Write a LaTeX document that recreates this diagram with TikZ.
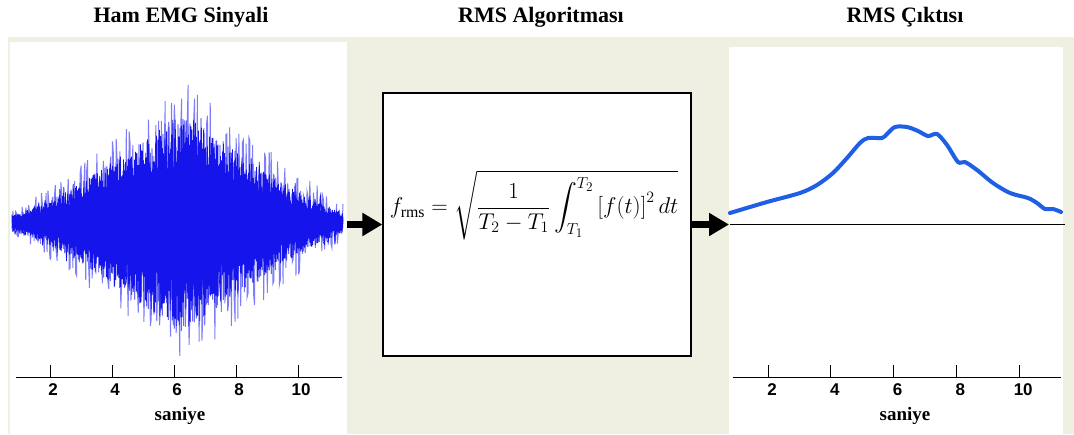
\documentclass[tikz,border=0pt]{standalone}
\usepackage{amsmath,fontspec}
\usetikzlibrary{arrows.meta,positioning}
\setmainfont{Liberation Serif}
\newfontfamily\tickfont{Liberation Sans}

\definecolor{panelbeige}{RGB}{240,240,226}
\definecolor{emgblue}{RGB}{20,20,235}
\definecolor{spikeblue}{RGB}{125,125,250}
\definecolor{rmsblue}{RGB}{30,95,230}

\tikzset{
  title/.style={font=\fontsize{22}{26}\selectfont\bfseries},
  panel/.style={fill=white, inner sep=0pt, anchor=north west},
  ticklabel/.style={font=\tickfont\fontsize{17}{20}\selectfont\bfseries, anchor=north},
  axislabel/.style={font=\fontsize{19}{22}\selectfont\bfseries},
  bigarrow/.style={line width=6.5pt, -{Triangle[length=20pt,width=22pt]}},
}

\begin{document}
\begin{tikzpicture}[x=1pt, y=-1pt,
    declare function={
      envspike(\x)=12+130*(max(0,1-abs(\x-185)/172))^1.1;
      envcore(\x)=9+104*(max(0,1-abs(\x-182)/168))^1.3;
      sgn(\x)=2*mod(round(\x*4),2)-1;
    }]
  \useasboundingbox (0,0) rectangle (1074,434);
  \pgfmathsetseed{42}

  % backgrounds
  \fill[panelbeige] (8,37) rectangle (1074,434);
  \node[panel, minimum width=337pt, minimum height=392pt] (raw) at (10,42) {};
  \node[panel, minimum width=334pt, minimum height=387pt] (out) at (729,47) {};

  % titles
  \node[title] (rawtitle) at (181,17) {Ham EMG Sinyali};
  \node[title] (algotitle) at (541,17) {RMS Algoritması};
  \node[title] (outtitle) at (905,17) {RMS Çıktısı};

  % raw EMG signal
  \draw[spikeblue, line width=1pt] plot[domain=12:343, samples=360] (\x, {223+sgn(\x*0.93)*(rnd^0.5)*envspike(\x)});
  \draw[emgblue, line width=0.8pt] plot[domain=12:343, samples=1325] (\x, {223+sgn(\x)*(0.5+0.5*rnd)*envcore(\x)});
  \draw[emgblue, line width=0.7pt] plot[domain=12:343, samples=250] (\x, {223+rand*envspike(\x)*0.8});

  % left axis
  \draw[line width=1pt] (16,377) -- (342,377);
  \foreach \t in {2,4,...,10}{
    \draw[line width=1pt] ({50+(\t-2)*31},365) -- ({50+(\t-2)*31},377);
    \node[ticklabel] at ({53+(\t-2)*31},380) {\t};
  }
  \node[axislabel] (rawx) at (180,416) {saniye};

  % RMS block
  \node[draw, line width=1.2pt, fill=white, minimum width=308pt, minimum height=263pt] (algo) at (537,224.5) {};
  \node[scale=1.1, transform shape] (formula) at (534,205) {\fontsize{20.74}{25}\selectfont
    $\displaystyle f_{\mathrm{rms}}=\sqrt{\frac{1}{T_2-T_1}\int_{T_1}^{T_2}\left[f(t)\right]^2 dt}$};

  % arrows
  \draw[bigarrow] (algo.west -| raw.east) -- (algo.west);
  \draw[bigarrow] (algo.east) -- (algo.east -| out.west);

  % RMS output
  \draw[line width=1pt] (730,224) -- (1065,224);
  \draw[rmsblue, line width=4pt, line cap=round] plot[smooth, tension=0.5] coordinates {
    (730,213) (767,202) (800,193) (817,185) (833,173) (847,158) (860,143)
    (868,138) (882,138) (887,134) (895,127) (907,127) (918,131) (928,136)
    (937,134) (947,145) (958,162) (965,162) (977,170) (993,183) (1010,193)
    (1028,198) (1037,203) (1045,209) (1053,209) (1061,212)};

  % right axis
  \draw[line width=1pt] (733,377) -- (1061,377);
  \foreach \t in {2,4,...,10}{
    \draw[line width=1pt] ({768+(\t-2)*31.4},365) -- ({768+(\t-2)*31.4},377);
    \node[ticklabel] at ({772+(\t-2)*31.4},380) {\t};
  }
  \node[axislabel] (outx) at (905,416) {saniye};
\end{tikzpicture}
\end{document}
